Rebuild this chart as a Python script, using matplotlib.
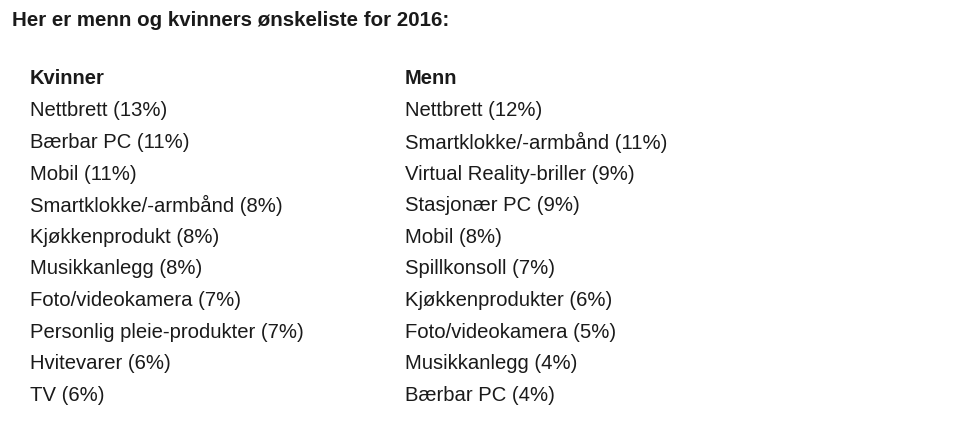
import matplotlib.pyplot as plt

title = "Her er menn og kvinners ønskeliste for 2016:"

kvinner_items = ["Nettbrett", "Bærbar PC", "Mobil", "Smartklokke/-armbånd",
                 "Kjøkkenprodukt", "Musikkanlegg", "Foto/videokamera",
                 "Personlig pleie-produkter", "Hvitevarer", "TV"]
kvinner_pct = [13, 11, 11, 8, 8, 8, 7, 7, 6, 6]

menn_items = ["Nettbrett", "Smartklokke/-armbånd", "Virtual Reality-briller",
              "Stasjonær PC", "Mobil", "Spillkonsoll", "Kjøkkenprodukter",
              "Foto/videokamera", "Musikkanlegg", "Bærbar PC"]
menn_pct = [12, 11, 9, 9, 8, 7, 6, 5, 4, 4]

W, H = 960, 426
fig = plt.figure(figsize=(9.6, 4.26), dpi=100)
fig.patch.set_facecolor("white")
plt.rcParams["font.family"] = "Liberation Sans"
col = "#1a1a1a"

def put(x, y, s, **kw):
    fig.text(x / W, 1 - y / H, s, color=col, va="center", ha="left", **kw)

put(12, 20, title, fontsize=14.8, fontweight="bold")

for x0, head, items, pct in [(30, "Kvinner", kvinner_items, kvinner_pct),
                             (405, "Menn", menn_items, menn_pct)]:
    put(x0, 79, head, fontsize=14.5, fontweight="bold")
    for i, (name, p) in enumerate(zip(items, pct)):
        put(x0, 111 + i * 31.6, f"{name} ({p}%)", fontsize=14.6)

fig.savefig("out.png", dpi=100)
